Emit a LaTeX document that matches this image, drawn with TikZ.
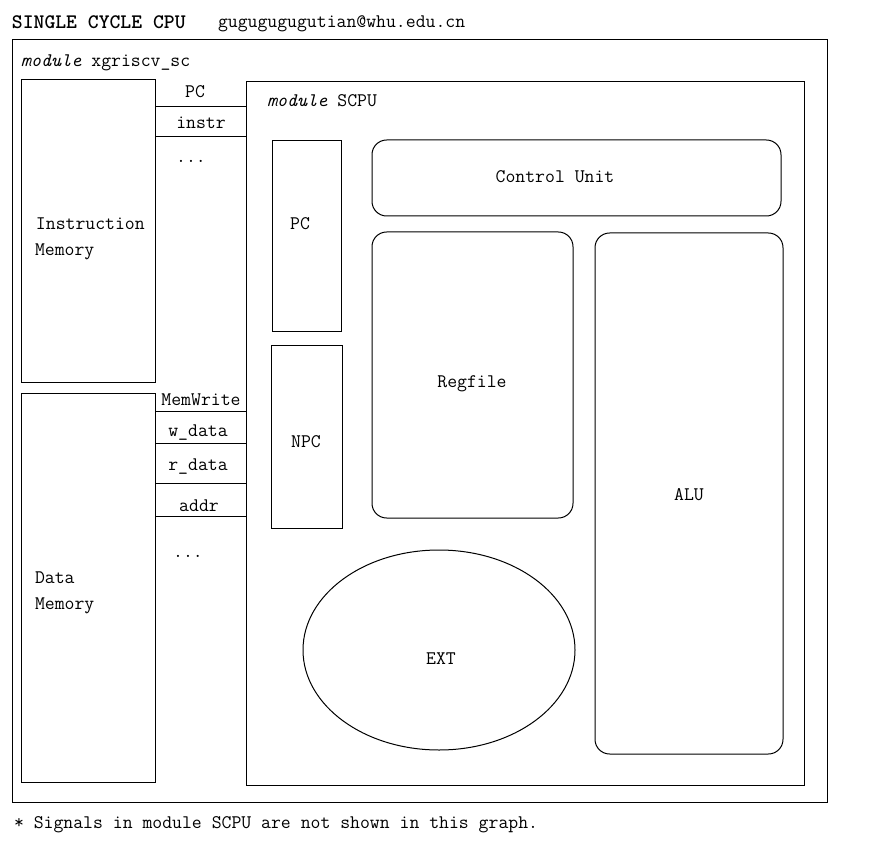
\documentclass[tikz,border=0pt]{standalone}
\usepackage{fontspec}
\usetikzlibrary{shapes.geometric}
\begin{document}
\begin{tikzpicture}[x=0.75pt,y=-0.75pt,
  txt/.style={font=\fontsize{14.4pt}{17pt}\selectfont\ttfamily, inner sep=0pt, outer sep=0pt},
  box/.style={draw, line width=0.75pt, inner sep=0pt, outer sep=0pt},
  rbox/.style={box, rounded corners=11pt},
  wire/.style={line width=0.75pt}]
\useasboundingbox (0,0) rectangle (870,841);
% title
\node[txt, anchor=base west, font=\fontsize{15.5pt}{18pt}\selectfont\ttfamily\bfseries] (title) at (12,29) {SINGLE CYCLE CPU};
\node[txt, anchor=base west] (mail) at (218,28) {gugugugugutian@whu.edu.cn};
% outer module
\node[box, minimum width=815*0.75pt, minimum height=762*0.75pt] (top) at (419.5,421) {};
\node[txt, anchor=base west] (toplbl) at (21,67) {\itshape module\upshape{} xgriscv\_sc};
% memories
\node[box, minimum width=134*0.75pt, minimum height=302*0.75pt] (imem) at (88,231) {};
\node[box, minimum width=134*0.75pt, minimum height=389*0.75pt] (dmem) at (88,587.5) {};
\node[txt, anchor=base west, align=left] (imlbl1) at (36,230) {Instruction};
\node[txt, anchor=base west] (imlbl2) at (35,256) {Memory};
\node[txt, anchor=base west] (dmlbl1) at (35,583) {Data};
\node[txt, anchor=base west] (dmlbl2) at (35,609) {Memory};
% SCPU
\node[box, minimum width=558*0.75pt, minimum height=703*0.75pt] (scpu) at (525,433.5) {};
\node[txt, anchor=base west] (scpulbl) at (267,107) {\itshape module\upshape{} SCPU};
% signals
\draw[wire] (imem.east |- 0,107) -- (scpu.west |- 0,107);
\draw[wire] (imem.east |- 0,137) -- (scpu.west |- 0,137);
\node[txt, anchor=base] (sPC) at (195,98) {PC};
\node[txt, anchor=base] (sinstr) at (201,129) {instr};
\node[txt, anchor=base] (sdots1) at (191,163) {...};
\draw[wire] (dmem.east |- 0,411) -- (scpu.west |- 0,411);
\draw[wire] (dmem.east |- 0,443) -- (scpu.west |- 0,443);
\draw[wire] (dmem.east |- 0,483) -- (scpu.west |- 0,483);
\draw[wire] (dmem.east |- 0,516) -- (scpu.west |- 0,516);
\node[txt, anchor=base] (smw) at (201,405) {MemWrite};
\node[txt, anchor=base] (swd) at (198,436) {w\_data};
\node[txt, anchor=base] (srd) at (198,470) {r\_data};
\node[txt, anchor=base] (sad) at (199,511) {addr};
\node[txt, anchor=base] (sdots2) at (188,557) {...};
% SCPU parts
\node[box, minimum width=69*0.75pt, minimum height=190*0.75pt] (pc) at (306.5,236) {};
\node[txt, anchor=base] (pclbl) at (300,230) {PC};
\node[box, minimum width=71*0.75pt, minimum height=183*0.75pt] (npc) at (306.5,436.5) {};
\node[txt, anchor=base] (npclbl) at (306,447) {NPC};
\node[rbox, minimum width=409*0.75pt, minimum height=76*0.75pt] (cu) at (576.5,178) {};
\node[txt, anchor=base] (culbl) at (555,183) {Control Unit};
\node[rbox, minimum width=201*0.75pt, minimum height=286*0.75pt] (rf) at (472.5,375) {};
\node[txt, anchor=base] (rflbl) at (472,387) {Regfile};
\node[rbox, minimum width=188*0.75pt, minimum height=521*0.75pt] (alu) at (689,493.5) {};
\node[txt, anchor=base] (alulbl) at (689,500) {ALU};
\node[box, ellipse, minimum width=272*0.75pt, minimum height=200*0.75pt] (ext) at (439,650) {};
\node[txt, anchor=base] (extlbl) at (441,664) {EXT};
% footnote
\node[txt, anchor=base west] (note) at (14,828) {* Signals in module SCPU are not shown in this graph.};
\end{tikzpicture}
\end{document}
